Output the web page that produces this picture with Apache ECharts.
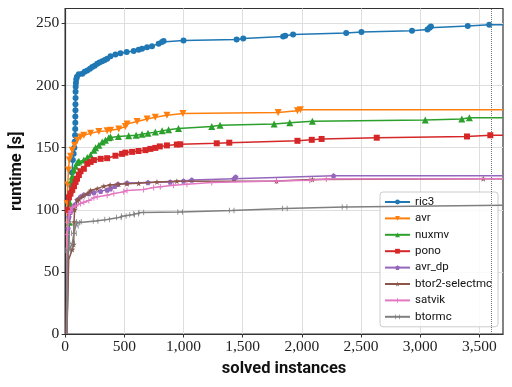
<!DOCTYPE html>
<html>
<head>
<meta charset="utf-8">
<script src="https://cdn.jsdelivr.net/npm/echarts@6/dist/echarts.min.js"></script>
<style>html,body{margin:0;padding:0;background:#fff}#c{width:512px;height:387px}</style>
</head>
<body>
<div id="c"></div>
<script>
// ---- data (solved instances, runtime [s]) ----
const ric3 = [[15,0],[25,60],[40,100],[50,120],[58,130],[65,140],[72,145],[78,150],[82,155],[84,160],[85,165],[86,170],[86,175],[87,180],[87,185],[88,190],[88,195],[89,199],[91,202],[94,205],[100,207],[115,209],[145,209.5],[165,211],[187,212],[210,213.5],[229,214.9],[250,216],[271,217.6],[290,218.5],[313,219.5],[335,220.5],[355,221.6],[383,223.5],[425,225],[467,226],[520,227],[579,227.7],[621,228.8],[650,229.7],[692,230.9],[734,231.7],[790,233.7],[818,235],[832,235.8],[1000,236.3],[1449,237],[1505,237.9],[1842,239.5],[1860,240],[1926,241],[2375,242.3],[2504,243],[2931,244],[3062,245],[3080,246.5],[3091,247.5],[3402,248],[3584,249],[3700,249]];
const avr = [[12,0],[15,60],[18,105],[22,120],[28,132],[35,140],[46,143],[60,148],[80,152],[103,156],[130,158.5],[158,160],[215,161.5],[285,163],[355,163.5],[383,164],[453,165],[509,167],[523,169],[608,171],[692,173],[762,174.5],[860,176],[995,177.5],[1800,178.3],[1963,179.6],[1988,180.5],[3700,180.5]];
const nuxmv = [[15,0],[25,60],[35,90],[42,105],[46,116],[55,124],[60,127],[75,132],[88,135],[103,138],[116,139],[158,140],[187,142],[215,144],[243,148],[257,150],[285,152],[313,154.6],[340,156],[369,158],[383,158.6],[450,159],[537,159.5],[600,160],[650,160.8],[700,161.5],[762,162.5],[820,163.5],[874,164.5],[958,165.4],[1239,167],[1309,168],[1766,169],[1898,170],[2089,171.3],[3043,172.3],[3352,173],[3416,174],[3700,174]];
const pono = [[15,0],[20,60],[25,100],[32,110],[45,113],[60,116],[75,119],[88,122.4],[100,125],[116,128],[130,131],[158,133],[187,137],[215,138.5],[243,140],[300,141],[355,141.5],[425,143.5],[481,145],[509,146],[566,146.6],[620,147.3],[678,148],[720,149],[762,149.8],[800,151],[860,151.8],[944,152.5],[972,152.7],[1281,153.5],[1387,154],[1963,155.5],[2084,156.3],[2167,157],[2633,158],[3396,159],[3593,160],[3700,160]];
const avr_dp = [[15,0],[20,60],[25,85],[32,94],[45,98],[60,101],[80,104],[103,108],[130,110.4],[158,112],[200,113],[243,113.8],[300,115],[355,116],[383,117],[420,119],[445,120.6],[523,121.6],[700,122],[888,122.4],[1000,123.2],[1070,124],[1427,125],[1441,126.4],[2268,127.3],[3700,127.3]];
const btor2_selectmc = [[15,0],[30,60],[60,68],[72,72],[75,90],[80,100],[88,103],[103,107.7],[116,108.5],[150,111],[187,113],[215,115.5],[271,117],[327,119],[380,120],[453,120.6],[523,121],[621,121.3],[776,122.4],[944,123],[1786,123.2],[2089,124.3],[3533,125],[3700,125]];
const satvik = [[12,0],[15,60],[18,80],[25,90],[35,97],[46,99],[60,102],[88,103],[130,105],[158,106],[200,107.5],[243,109.6],[271,110.4],[355,111.7],[411,113],[495,114.4],[523,115.5],[663,116.3],[748,118],[804,118.5],[916,119.8],[1029,120.6],[1239,122],[1786,123.2],[2067,123.8],[2207,124.8],[3700,125]];
const btormc = [[12,0],[15,40],[18,60],[25,67.5],[46,70],[60,73],[74,81],[90,87],[103,89.5],[116,90.3],[257,91],[355,92.2],[453,93.8],[495,95],[566,96],[600,96.8],[644,97.8],[972,98.3],[1407,99.5],[1856,101],[2361,102.3],[3700,103.7]];
const seriesNames = ['ric3','avr','nuxmv','pono','avr_dp','btor2-selectmc','satvik','btormc'];
const timeLimit = 3600;
const xTicks = [0,500,1000,1500,2000,2500,3000,3500];
const yTicks = [0,50,100,150,200,250];

// ---- styling ----
const colors = ['#1f77b4','#ff7f0e','#2ca02c','#d62728','#9467bd','#8c564b','#e377c2','#7f7f7f'];
const symbols = [
  'circle',
  'path://M0,0 L10,0 L5,9 Z',
  'triangle',
  'rect',
  'path://M5,0 L10,3.8 L8.1,10 L1.9,10 L0,3.8 Z',
  'path://M5,0 L6.2,3.5 L10,3.8 L7,6.1 L8.1,10 L5,7.7 L1.9,10 L3,6.1 L0,3.8 L3.8,3.5 Z',
  'path://M4.2,0 L5.8,0 L5.8,4.2 L10,4.2 L10,5.8 L5.8,5.8 L5.8,10 L4.2,10 L4.2,5.8 L0,5.8 L0,4.2 L4.2,4.2 Z',
  'path://M0,0 L1.4,0 L1.4,3.6 L5,5 L8.6,3.6 L8.6,0 L10,0 L10,10 L8.6,10 L8.6,6.4 L5,5 L1.4,6.4 L1.4,10 L0,10 Z'
];
const sizes = [6,7,7,6,5.5,6,6,5.5];
const allData = [ric3, avr, nuxmv, pono, avr_dp, btor2_selectmc, satvik, btormc];

const series = allData.map((d, i) => {
  const items = d.map((p, j) => (j === 0 || j === d.length - 1 || p[1] < 65) ? {value: p, symbol: 'none'} : {value: p});
  const s = {
    name: seriesNames[i], type: 'line', data: items,
    symbol: symbols[i], symbolSize: sizes[i],
    lineStyle: {color: colors[i], width: 1.5},
    itemStyle: {color: colors[i]},
    showSymbol: true, animation: false, z: 2 + i
  };
  if (i === 0) {
    s.markLine = {silent: true, symbol: ['none','none'], label: {show: false},
      lineStyle: {type: 'dotted', color: '#777', width: 1}, data: [{xAxis: timeLimit}], animation: false};
  }
  return s;
});

const chart = echarts.init(document.getElementById('c'), null, {renderer: 'canvas'});
chart.setOption({
  animation: false,
  backgroundColor: '#fff',
  grid: {left: 64.5, top: 8.5, width: 438.5, height: 325.5, show: true, borderColor: '#333', borderWidth: 1.2, backgroundColor: 'transparent'},
  xAxis: {
    type: 'value', min: 0, max: 3700, interval: 500,
    name: 'solved instances', nameLocation: 'middle', nameGap: 26,
    nameTextStyle: {fontFamily: 'Roboto', fontWeight: 'bold', fontSize: 16.5, color: '#111'},
    axisLine: {show: true, lineStyle: {color: '#333', width: 1.2}},
    axisTick: {show: true, length: 3.5, lineStyle: {color: '#333'}, customValues: xTicks},
    axisLabel: {fontFamily: 'Liberation Serif', fontSize: 15.5, color: '#222', margin: 5, customValues: xTicks},
    splitLine: {show: true, lineStyle: {color: '#dedede', width: 1}}
  },
  yAxis: {
    type: 'value', min: 0, max: 262, interval: 50,
    name: 'runtime [s]', nameLocation: 'middle', nameGap: 39,
    nameTextStyle: {fontFamily: 'Roboto', fontWeight: 'bold', fontSize: 16.5, color: '#111'},
    axisLine: {show: true, lineStyle: {color: '#333', width: 1.2}},
    axisTick: {show: true, length: 3.5, lineStyle: {color: '#333'}, customValues: yTicks},
    axisLabel: {fontFamily: 'Liberation Serif', fontSize: 15.5, color: '#222', margin: 6, customValues: yTicks},
    splitLine: {show: true, lineStyle: {color: '#dedede', width: 1}}
  },
  legend: {
    orient: 'vertical', left: 380, top: 192,
    padding: [3, 6, 3, 4],
    backgroundColor: 'rgba(255,255,255,0.85)', borderColor: '#cccccc', borderWidth: 1, borderRadius: 3,
    itemWidth: 25, itemHeight: 6, itemGap: 2.4, itemTextGap: 9,
    textStyle: {fontFamily: 'Roboto', fontSize: 11.5, color: '#111', lineHeight: 14},
    data: seriesNames
  },
  series: series
});
</script>
</body>
</html>
